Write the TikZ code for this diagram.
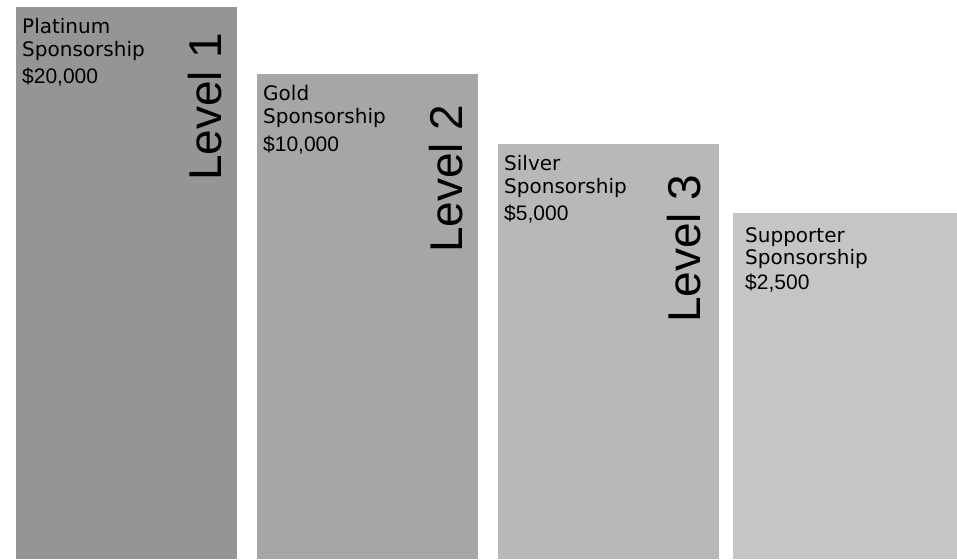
\documentclass[tikz,border=0pt]{standalone}
\usepackage{fontspec}
\newfontfamily\tierfamily{DejaVu Sans}
\newfontfamily\pricefamily{Liberation Sans}
\usetikzlibrary{positioning}
\definecolor{barone}{RGB}{149,149,149}
\definecolor{bartwo}{RGB}{166,166,166}
\definecolor{barthree}{RGB}{184,184,184}
\definecolor{barfour}{RGB}{197,197,197}
\tikzset{
tier/.style={anchor=base west,inner sep=0pt,font=\tierfamily\fontsize{20}{24}\selectfont},
price/.style={anchor=base west,inner sep=0pt,font=\pricefamily\fontsize{21}{25}\selectfont},
level/.style={anchor=base west,inner sep=0pt,rotate=90,font=\pricefamily\fontsize{46}{50}\selectfont}}

\begin{document}
\begin{tikzpicture}[x=1pt,y=-1pt]

\useasboundingbox (0,0) rectangle (957,559);

% bars
\fill[barone] (16,7) rectangle (237,559);
\fill[bartwo] (257,74) rectangle (478,559);
\fill[barthree] (498,144) rectangle (719,559);
\fill[barfour] (733,213) rectangle (957,559);

% level 1
\node[tier] (p1) at (22,34) {Platinum};
\node[tier] (p2) at (22,57) {Sponsorship};
\node[price] (p3) at (22,84) {\$20,000};
\node[level] (l1) at (221,181) {Level 1};

% level 2
\node[tier] (g1) at (263,101) {Gold};
\node[tier] (g2) at (263,124) {Sponsorship};
\node[price] (g3) at (263,151) {\$10,000};
\node[level] (l2) at (462,253) {Level 2};

% level 3
\node[tier] (s1) at (504,170) {Silver};
\node[tier] (s2) at (504,193) {Sponsorship};
\node[price] (s3) at (504,220) {\$5,000};
\node[level] (l3) at (700,323) {Level 3};

% supporter
\node[tier] (u1) at (745,242) {Supporter};
\node[tier] (u2) at (745,264) {Sponsorship};
\node[price] (u3) at (745,289) {\$2,500};
\end{tikzpicture}
\end{document}
